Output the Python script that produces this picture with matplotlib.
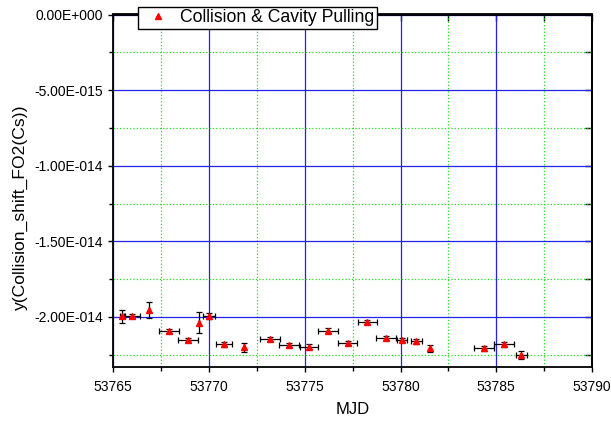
import matplotlib
matplotlib.use("Agg")
import matplotlib.pyplot as plt
from matplotlib.ticker import MultipleLocator, FuncFormatter
from matplotlib.lines import Line2D
import numpy as np

plt.rcParams['font.family'] = ['Liberation Sans', 'DejaVu Sans']

mjd = [53765.47, 53766.00, 53766.86, 53767.91, 53768.91, 53769.47, 53769.99,
       53770.79, 53771.82, 53773.18, 53774.19, 53775.21, 53776.22, 53777.24,
       53778.26, 53779.23, 53780.08, 53780.83, 53781.53, 53784.36, 53785.39,
       53786.31]
shift_e15 = [-19.97, -19.94, -19.56, -20.93, -21.53, -20.37, -19.92,
             -21.81, -22.01, -21.46, -21.86, -21.97, -20.91, -21.71,
             -20.32, -21.38, -21.53, -21.61, -22.08, -22.08, -21.81,
             -22.50]
xerr_days = [0.10, 0.37, 0.00, 0.50, 0.52, 0.00, 0.31, 0.42, 0.00, 0.52, 0.52,
             0.47, 0.52, 0.50, 0.50, 0.52, 0.27, 0.29, 0.00, 0.52, 0.52, 0.30]
yerr_e15 = [0.46, 0.15, 0.53, 0.15, 0.15, 0.71, 0.20, 0.15, 0.30, 0.15, 0.15,
            0.15, 0.15, 0.15, 0.15, 0.15, 0.15, 0.15, 0.25, 0.15, 0.15, 0.25]
legend_label = "Collision & Cavity Pulling"

x = np.array(mjd)
y = np.array(shift_e15) * 1e-15
xe = np.array(xerr_days)
ye = np.array(yerr_e15) * 1e-15

fig = plt.figure(figsize=(6.11, 4.25), dpi=100)
ax = fig.add_axes([113.3/611, 1-367.3/425, (592-113.3)/611, (367.3-14.5)/425])

ax.errorbar(x, y, xerr=xe, yerr=ye, fmt='none', ecolor='black',
            elinewidth=0.9, capsize=2.2, capthick=0.9, zorder=3)
ax.plot(x, y, linestyle='none', marker='^', color='red', markersize=4.6,
        markeredgecolor='red', zorder=4)

ax.set_xlim(53765, 53790)
ax.set_ylim(-2.333e-14, 0)

ax.xaxis.set_major_locator(MultipleLocator(5))
ax.xaxis.set_minor_locator(MultipleLocator(2.5))
ax.yaxis.set_major_locator(MultipleLocator(5e-15))
ax.yaxis.set_minor_locator(MultipleLocator(2.5e-15))

def fmt(v, pos):
    if abs(v) < 1e-30:
        return "0.00E+000"
    s = f"{v:.2E}"
    mant, ex = s.split("E")
    sign = ex[0]
    num = int(ex[1:])
    return f"{mant}E{sign}{num:03d}"

ax.yaxis.set_major_formatter(FuncFormatter(fmt))
ax.xaxis.set_major_formatter(FuncFormatter(lambda v, p: f"{v:.0f}"))

ax.grid(which='major', color='#2222ee', linestyle='-', linewidth=0.9, zorder=1)
ax.grid(which='minor', color='#22dd22', linestyle=':', linewidth=0.9, zorder=1)
ax.set_axisbelow(True)

for s in ax.spines.values():
    s.set_linewidth(1.3)

ax.tick_params(which='both', direction='out', width=1.0, labelsize=10,
               top=False, right=False)
ax.tick_params(which='major', length=3.5, pad=4)
ax.tick_params(axis='x', which='major', pad=5.5)
ax.tick_params(which='minor', length=3.0)

sx = ax.secondary_xaxis('top')
sx.xaxis.set_major_locator(MultipleLocator(5))
sx.xaxis.set_minor_locator(MultipleLocator(2.5))
sx.tick_params(which='both', direction='in', length=5, width=1.0, labeltop=False)
sy = ax.secondary_yaxis('right')
sy.yaxis.set_major_locator(MultipleLocator(5e-15))
sy.yaxis.set_minor_locator(MultipleLocator(2.5e-15))
sy.tick_params(which='both', direction='in', length=5, width=1.0, labelright=False)
sx.spines['top'].set_linewidth(1.3)
sy.spines['right'].set_linewidth(1.3)

ax.set_xlabel("MJD", fontsize=12)
ax.xaxis.set_label_coords(0.5, -(402 - 367.3) / 352.8)
ax.set_ylabel("y(Collision_shift_FO2(Cs))", fontsize=12.6)
ax.yaxis.set_label_coords(-(113.3 - 28) / 478.7, (367.3 - 207) / 352.8)

handle = Line2D([], [], linestyle='none', marker='^', color='red', markersize=4.6)
leg = fig.legend([handle], [legend_label], loc='upper left',
                 bbox_to_anchor=(138/611, 1-6.7/425), fontsize=12.7,
                 frameon=True, fancybox=False, edgecolor='black', framealpha=1,
                 borderpad=0.15, handlelength=2.0, handletextpad=0.25,
                 borderaxespad=0)
leg.get_frame().set_linewidth(1.0)
leg.set_zorder(10)

fig.savefig("out.png", dpi=100)
